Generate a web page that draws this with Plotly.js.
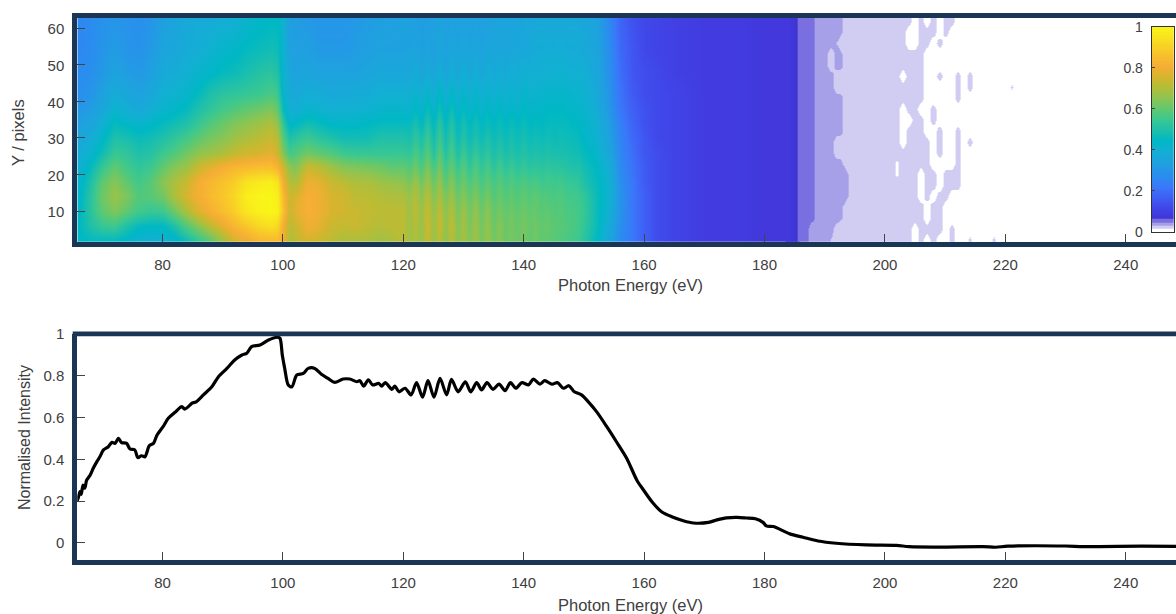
<!DOCTYPE html>
<html><head><meta charset="utf-8">
<script src="https://cdn.plot.ly/plotly-3.0.1.min.js"></script>
<style>html,body{margin:0;padding:0;background:#fff}#c{width:1176px;height:614px}</style>
</head><body><div id="c"></div>
<script>
// ---- spectrum (lower panel) ----
const specEnergy=[65.75,66.0,66.3,66.5,66.8,67.1,67.4,68,68.5,69.1,69.6,70.2,71,71.6,72.1,72.4,72.7,73.2,74.05,74.6,75.4,75.9,76.5,77.1,77.4,77.8,78.5,79.1,80.1,80.96,82.1,83.2,83.7,84.6,84.85,85.6,86.8,88.2,89.3,90.7,92,93.2,94,94.8,96.2,97.6,99,99.5,99.9,100.3,100.9,101.5,102.3,103.4,104.2,105.3,106.4,107.5,108.6,110,111.1,112.3,112.8,113.4,114.2,114.9,115.9,116.4,117,118.1,118.6,119.3,120.3,121.3,122.2,123.2,124.1,125.1,126.1,127.2,128,129.1,130.3,131.2,132.2,133,133.9,134.9,135.9,136.9,137.8,138.7,139.7,140.8,141.6,142.7,143.5,144.7,145.6,146.6,147.5,148.4,149.6,150.7,152.1,153.8,155.4,157.1,158.8,159.9,161.3,162.9,164.6,166.5,168.2,170.7,172.1,173.7,175.5,177,178.5,179.8,180.3,181.5,184.2,186.4,188.9,191.9,196.9,201.9,204,209,216.3,218.4,220.4,230,233,242.7,248.4];
const specValue=[0.197,0.215,0.245,0.232,0.277,0.262,0.30,0.325,0.357,0.389,0.412,0.445,0.46,0.481,0.476,0.488,0.50,0.48,0.476,0.449,0.445,0.408,0.417,0.412,0.432,0.465,0.476,0.516,0.556,0.596,0.625,0.652,0.64,0.66,0.668,0.675,0.708,0.747,0.795,0.835,0.875,0.899,0.907,0.939,0.947,0.971,0.984,0.98,0.899,0.835,0.755,0.747,0.803,0.811,0.835,0.835,0.807,0.787,0.768,0.784,0.784,0.771,0.776,0.75,0.78,0.756,0.763,0.75,0.767,0.735,0.75,0.723,0.74,0.708,0.767,0.697,0.776,0.697,0.787,0.708,0.783,0.723,0.771,0.723,0.767,0.732,0.767,0.735,0.76,0.728,0.767,0.74,0.767,0.756,0.784,0.76,0.776,0.759,0.767,0.74,0.752,0.723,0.708,0.676,0.628,0.556,0.484,0.405,0.30,0.253,0.197,0.149,0.125,0.106,0.095,0.098,0.11,0.12,0.122,0.119,0.115,0.097,0.081,0.078,0.043,0.027,0.009,-0.002,-0.010,-0.012,-0.018,-0.02,-0.018,-0.021,-0.016,-0.015,-0.018,-0.016,-0.017];

// ---- map, x < 184 eV: percent of peak, one array per energy, rows at heatRowY ----
const heatRowY=[2,6,10,14,18,22,26,30,34,38,42,48,54,62];
const heatEnergy=[66,68,70,72,74,76,78,80,82,84,86,88,90,92,94,96,98,99,100,101,102,104,106,108,110,112,114,116,118,120,121,122,123,124,125,126,127,128,129,130,131,132,133,134,135,136,137,138,139,140,141,142,143,144,145,146,147,148,149,150,152,154,156,158,160,162,165,170,175,180,184];
const heatByEnergy=[
[44,45,44,43,42,40,38,36,33,30,28,27,26,26],
[46,50,52,52,50,46,42,38,35,32,30,28,27,27],
[46,54,60,62,60,54,48,44,40,36,34,31,30,29],
[46,55,64,67,65,60,54,50,46,42,38,34,32,30],
[44,50,60,64,60,56,53,49,44,39,36,32,30,29],
[41,46,56,58,56,53,50,47,42,37,34,31,29,28],
[40,45,54,59,59,55,51,48,44,39,36,33,31,30],
[40,45,55,62,65,60,55,50,46,42,40,37,35,33],
[43,50,62,70,70,65,58,53,48,44,41,38,36,35],
[48,58,70,76,74,68,62,56,50,46,43,40,38,37],
[54,65,77,81,81,74,66,60,54,50,46,42,39,38],
[60,72,82,85,84,78,68,63,58,53,50,44,41,38],
[68,78,86,88,87,81,70,65,61,56,52,46,43,39],
[76,84,90,92,90,84,73,68,64,58,53,47,44,40],
[80,88,96,98,95,85,75,70,66,60,54,49,46,42],
[84,92,99,100,97,86,76,72,68,62,55,51,47,44],
[85,94,100,100,98,86,78,74,70,64,57,52,48,45],
[85,92,99,98,95,83,74,71,66,60,55,50,47,45],
[80,80,86,84,80,74,64,58,52,46,42,41,41,40],
[70,72,74,74,71,66,56,50,44,39,38,36,34,33],
[72,74,78,76,70,64,58,52,45,39,37,34,33,32],
[76,80,82,82,80,74,62,55,48,42,39,35,33,31],
[74,78,80,80,78,72,60,52,46,41,38,34,31,30],
[72,74,76,76,74,68,58,50,44,40,37,34,31,30],
[70,73,75,75,72,65,55,48,44,40,37,34,31,30],
[70,74,74,72,70,64,54,48,44,40,38,34,32,31],
[70,72,73,72,70,63,54,48,45,41,38,35,33,32],
[68,71,72,71,68,62,54,50,46,42,40,36,34,33],
[70,72,72,70,67,60,54,50,46,43,40,36,34,33],
[72,72,72,70,66,60,54,50,46,42,40,36,34,34],
[68,68,68,67,63,58,53,49,46,42,40,36,34,33],
[70,71,72,71,68,62,57,53,49,45,42,38,35,33],
[67,67,67,65,62,57,53,49,45,42,39,35,33,32],
[74,75,74,72,68,64,59,55,51,47,43,38,35,33],
[67,67,66,64,61,56,51,48,45,42,39,35,33,33],
[72,74,73,70,67,63,59,55,52,48,45,39,36,34],
[65,66,65,63,59,55,51,48,45,42,39,35,34,33],
[72,73,71,68,65,61,57,54,51,48,44,39,36,34],
[65,64,63,61,58,54,50,47,45,42,40,36,34,33],
[69,69,68,65,62,59,55,51,49,46,43,39,36,34],
[64,63,62,60,57,53,50,47,45,42,40,36,34,33],
[68,68,67,64,61,58,54,50,48,45,43,39,36,34],
[63,62,61,59,56,53,50,47,45,42,40,36,34,33],
[67,67,66,63,60,57,53,50,47,45,42,39,36,34],
[62,61,60,58,56,52,49,47,45,42,40,37,35,34],
[65,65,63,61,59,56,52,49,47,45,42,39,36,35],
[61,61,60,58,56,52,49,47,45,42,40,37,35,35],
[63,63,62,60,58,55,51,49,47,44,42,39,37,35],
[61,61,60,58,56,52,49,47,45,42,40,38,36,35],
[63,63,62,60,58,54,51,49,47,45,43,40,37,36],
[60,61,60,58,56,52,49,47,45,43,41,39,37,36],
[62,62,61,60,57,53,50,48,46,44,42,40,38,37],
[60,60,59,58,55,52,49,47,45,44,42,39,38,37],
[60,61,60,58,56,53,50,48,46,45,43,40,39,37],
[59,59,58,57,55,52,49,47,46,44,42,40,38,37],
[58,59,59,58,56,52,49,48,46,45,43,41,39,37],
[57,58,57,56,54,51,49,47,46,44,43,40,38,37],
[56,57,57,56,54,50,48,47,45,44,42,40,38,37],
[55,56,56,55,53,50,48,46,45,43,42,40,38,37],
[52,53,54,53,50,48,46,44,43,42,41,39,37,36],
[45,47,47,47,46,45,43,41,40,38,37,36,35,34],
[36,38,40,41,41,39,36,34,33,31,30,29,28,27],
[27,28,29,29,28,27,26,25,24,22,21,20,19,18],
[22,22,22,22,22,21,20,19,18,17,16,15,15,14],
[17,17,17,17,16,16,15,15,14,14,13,13,12,12],
[13,13,13,13,13,13,13,12,12,12,12,12,11,11],
[11,11,11,11,11,11,11,11,11,11,11,10,10,10],
[9,9,9,9,9,9,9,9,9,9,9,9,9,9],
[9,9,9,9,9,9,9,9,9,9,9,9,9,9],
[8,8,8,8,8,8,8,8,8,8,8,8,8,8],
[8,8,8,8,8,8,8,8,8,8,8,8,8,8]];

// ---- map, x >= 184 eV: low-level tail, percent, one array per row ----
const tailEnergy=[184,185,186,187,188,189,190,191,192,193,194,195,196,197,198,199,200,201,202,203,204,205,206,207,208,209,210,211,212,213,214,215,216,217,218,219,220,221,222];
const tailRowY=[2,5,8,11,14,17,20,23,26,29,32,35,38,41,44,47,50,53,56,59,62];
const tailRows=[
[8,7,5,5,4,4,4,3,2,2, 2,2,2,2,2,2,2,2,2,2, 2,1,2,1,2,1,1,2,1,1, 1.8,1,1,1,1.8,1,1,1,1],
[8,7,5,5,4,4,4,4,2,2, 2,2,2,2,2,2,2,2,2,2, 2,1,2,2,2,2,1,2,1,1, 1,1,1,1,1,1,1,1,1],
[8,7,5,5,5,4,4,4,4,3, 2,2,2,2,2,2,2,2,2,2, 2,2,2,1,2,2,1,1,1,1, 1,1,1,1,1,1,1,1,1],
[8,7,5,5,5,4,4,4,4,3, 2,2,2,2,2,2,2,2,2,2, 2,2,2,1,2,2,1,1,1,1, 1,1,1,1,1,1,1,1,1],
[8,7,5,5,5,4,4,4,4,4, 3,2,2,2,2,2,2,2,2,2, 2,2,1,2,1,2,2,1,1,1, 1,1,1,1,1,1,1,1,1],
[8,7,5,5,5,4,4,4,4,4, 3,2,2,2,2,2,2,2,2,2, 2,2,1,2,2,1,2,2,2,1, 1,1,1,1,1,1,1,1,1],
[8,7,5,5,5,4,4,4,4,4, 3,2,2,2,2,2,2,2,1.4,2, 2,2,1,2,2,1,2,2,2,1, 1,1,1,1,1,1,1,1,1],
[8,7,5,5,5,4,4,4,4,3, 2,2,2,2,2,2,2,2,1.4,2, 2,2,2,2,1,1,1,1,2,1, 1,1,1,1,1,1,1,1,1],
[8,7,5,5,5,4,4,4,2,3, 2,2,2,2,2,2,2,2,2,2, 2,2,2,2,1,2,1,1,2,1, 1,1,1,1,1,1,1,1,1],
[8,7,5,5,5,4,4,4,2,3, 2,2,2,2,2,2,2,2,2,1, 2,2,2,2,1,2,1,1,2,1, 2,1,1,1,1,1,1,1,1],
[8,7,5,5,5,4,4,4,4,3, 2,2,2,2,2,2,2,2,2,1, 2,2,2,1,1,2,1,1,2,1, 1,1,1,1,1,1,1,1,1],
[8,7,5,5,5,4,4,4,4,3, 2,2,2,2,2,2,2,2,2,1, 1,2,2,1,2,1,1,1,1,1, 1,1,1,1,1,1,1,1,1],
[8,7,5,5,5,4,4,4,4,3, 2,2,2,2,2,2,2,2,2,1, 2,2,1,1,2,1,1,1,1,1, 1,1,1,1,1,1,1,1,1],
[8,7,5,5,5,4,4,4,4,3, 2,2,2,2,2,2,2,2,2,2, 2,2,2,1,1,1,1,1,2,1, 1,1,1,1,1,1,1,1,1],
[8,7,5,5,5,4,4,4,2,3, 2,2,2,2,2,2,2,2,2,2, 2,2,2,1,1,1,1,1,2,1, 2,1,1,1,1,1,1,1.7,1],
[8,7,5,5,5,4,4,4,2,3, 2,2,2,2,2,2,2,2,2,1, 2,2,2,1,1,2,1,1,2,1, 2,1,1,1,1,1,1,1,1],
[8,7,5,5,5,4,4,2,4,3, 2,2,2,2,2,2,2,2,2,2, 2,2,2,1,1,1,1,1,1,1, 1,1,1,1,1,1,1,1,1],
[8,7,5,5,5,4,4,2,4,3, 2,2,2,2,2,2,2,2,2,2, 2,2,2,1,1,1,1,1,1,1, 1,1,1,1,1,1,1,1,1],
[8,7,5,5,5,4,4,4,3,2, 2,2,2,2,2,2,2,2,2,2, 1,1,2,2,1,2,1,1,1,1, 1,1,1,1,1,1,1,1,1],
[8,7,5,5,5,4,4,4,4,3, 2,2,2,2,2,2,2,2,2,2, 1,1,2,2,2,1,2,1,1,1, 1,1,1,1,1,1,1,1,1],
[8,7,5,5,5,4,4,4,4,3, 2,2,2,2,2,2,2,2,2,2, 2,1,2,1,2,1,2,2,1,1, 1,1,1,1,1,1,1,1,1]];

// ---- colour bar levels ----
const barLevels=[0,1,1.5,1.6,3,3.2,4.6,4.8,6.2,6.3,8,10,12,14,16,18,20,22,24,26,28,30,32,34,36,38,40,42,44,46,48,50,52,54,56,58,60,62,64,66,68,70,72,74,76,78,80,82,84,86,88,90,92,94,96,98,100];
const barTicks=[0,0.2,0.4,0.6,0.8,1];
const xTicks=[80,100,120,140,160,180,200,220,240];
const xTitle='Photon Energy (eV)', yTitleTop='Y / pixels', yTitleBottom='Normalised Intensity';
const ink='#404040', frame='#1b3554', fnt='"Liberation Sans",Arial,sans-serif';
const W=1176,H=614;
const colourStops=[[0,'#ffffff'],[0.0156,'#ffffff'],[0.0156,'#d0ccf2'],[0.031,'#d0ccf2'],[0.031,'#a6a0e9'],[0.047,'#a6a0e9'],[0.047,'#7a6fe0'],[0.0625,'#7a6fe0'],[0.0625,'#4033d2'],[0.08,'#4238dc'],[0.12,'#4048ea'],[0.17,'#3f60f5'],[0.22,'#3a78fa'],[0.27,'#2b8cf0'],[0.33,'#20a0e0'],[0.40,'#12b0d2'],[0.45,'#00b8c4'],[0.50,'#20c0aa'],[0.55,'#3cc890'],[0.60,'#60c870'],[0.66,'#90c450'],[0.72,'#bcbc34'],[0.76,'#d8b42e'],[0.81,'#f5ae35'],[0.87,'#f8c22c'],[0.94,'#f8e020'],[1,'#f9f518']];
const frac=v=>v/100;
const heatZ=heatRowY.map((_,r)=>heatByEnergy.map(c=>frac(c[r])));
const tailZ=tailRows.map(r=>r.map(frac));
const common={type:'heatmap',zsmooth:'best',zmin:0,zmax:1,colorscale:colourStops,showscale:false,hoverinfo:'skip'};
const data=[
 Object.assign({x:heatEnergy,y:heatRowY,z:heatZ,xaxis:'x',yaxis:'y'},common),
 Object.assign({x:tailEnergy,y:tailRowY,z:tailZ,xaxis:'x',yaxis:'y'},common),
 Object.assign({x:[0,1],y:barLevels.map(frac),z:barLevels.map(v=>[frac(v),frac(v)]),xaxis:'x3',yaxis:'y3'},common),
 {type:'scatter',mode:'lines',x:specEnergy,y:specValue,xaxis:'x2',yaxis:'y2',line:{color:'#000',width:3.2,shape:'spline',smoothing:0.8},hoverinfo:'skip'}
];
const ax=o=>Object.assign({showgrid:false,zeroline:false,ticks:'inside',ticklen:8,tickwidth:1,tickcolor:'#444',tickfont:{family:fnt,size:15,color:ink},showline:true,linecolor:frame,linewidth:5},o);
const xr=[65.85,248.35];
const titleNote=(text,xp,yp,size,angle)=>({text:text,xref:'paper',yref:'paper',x:xp/W,y:1-yp/H,xanchor:'center',yanchor:'middle',showarrow:false,textangle:angle,font:{family:fnt,size:size,color:ink}});
const layout={width:W,height:H,margin:{l:0,r:0,t:0,b:0,pad:0},paper_bgcolor:'#fff',plot_bgcolor:'#fff',showlegend:false,
 xaxis:ax({domain:[77.3/W,1],range:xr,anchor:'y',mirror:true,tickvals:xTicks,ticklabelstandoff:5}),
 yaxis:ax({domain:[1-241.7/H,1-18/H],range:[1.6,62.8],anchor:'x',tickvals:[10,20,30,40,50,60],ticklabelstandoff:5,ticklabelshift:1}),
 xaxis2:ax({domain:[77.3/W,1],range:xr,anchor:'y2',tickvals:xTicks,ticklabelstandoff:5}),
 yaxis2:ax({domain:[1-560/H,1-333.9/H],range:[-0.082,1],anchor:'x2',tickvals:barTicks,ticktext:['0','0.2','0.4','0.6','0.8','1'],ticklabelstandoff:5,ticklabelshift:1.5}),
 xaxis3:{domain:[1151.7/W,1174/W],range:[0,1],anchor:'y3',showticklabels:false,ticks:'',showgrid:false,zeroline:false,showline:true,mirror:true,linecolor:'#333',linewidth:1},
 yaxis3:{domain:[1-231.7/H,1-26.7/H],range:[0,1],anchor:'x3',tickvals:barTicks,ticktext:['0','0.2','0.4','0.6','0.8','1'],ticks:'inside',ticklen:3,tickcolor:'#444',tickfont:{family:fnt,size:14,color:ink},showgrid:false,zeroline:false,showline:true,mirror:true,linecolor:'#333',linewidth:1,ticklabelstandoff:5,ticklabelshift:1.5},
 annotations:[titleNote(xTitle,630.5,285,16.5,0),titleNote(xTitle,630.5,605,16.5,0),titleNote(yTitleTop,18,133,16.5,-90),titleNote(yTitleBottom,24,438,16,-90)],
 shapes:[{type:'line',xref:'paper',yref:'paper',x0:72.7/W,x1:1,y0:1-333.9/H,y1:1-333.9/H,line:{color:frame,width:4.6},layer:'above'}]
};
Plotly.newPlot('c',data,layout,{displayModeBar:false,staticPlot:true});
</script></body></html>
